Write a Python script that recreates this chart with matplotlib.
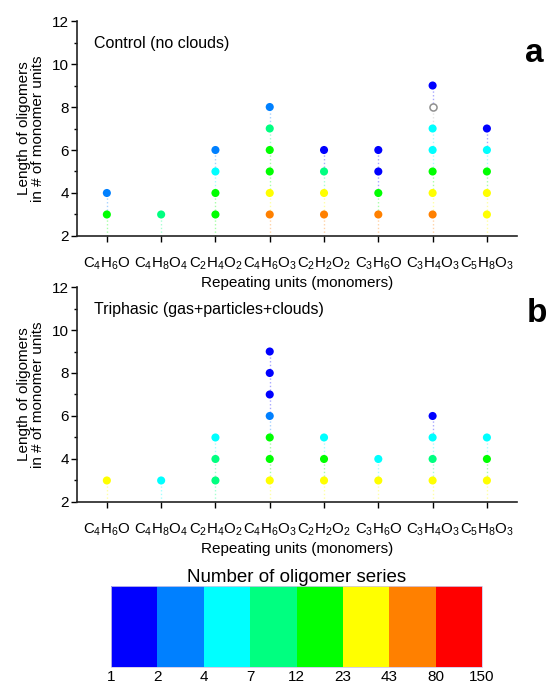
import numpy as np
import matplotlib
matplotlib.use("Agg")
import matplotlib.pyplot as plt
from matplotlib.colors import ListedColormap, BoundaryNorm
from matplotlib.colorbar import ColorbarBase

plt.rcParams['font.family'] = ['Liberation Sans', 'DejaVu Sans']
plt.rcParams['mathtext.fontset'] = 'custom'
plt.rcParams['mathtext.rm'] = 'Liberation Sans'
plt.rcParams['mathtext.it'] = 'Liberation Sans'

# ---------------- data ----------------
categories = [r'C$_4$H$_6$O', r'C$_4$H$_8$O$_4$', r'C$_2$H$_4$O$_2$', r'C$_4$H$_6$O$_3$',
              r'C$_2$H$_2$O$_2$', r'C$_3$H$_6$O', r'C$_3$H$_4$O$_3$', r'C$_5$H$_8$O$_3$']

# panel a (Control, no clouds): oligomer lengths per repeating unit and number of series
a_lengths = [[3, 4], [3], [3, 4, 5, 6], [3, 4, 5, 6, 7, 8], [3, 4, 5, 6],
             [3, 4, 5, 6], [3, 4, 5, 6, 7, 8, 9], [3, 4, 5, 6, 7]]
a_counts = [[17, 3], [9], [17, 17, 5, 3], [60, 30, 17, 17, 9, 3], [60, 30, 9, 1.5],
            [60, 17, 1.5, 1.5], [60, 30, 17, 5, 5, np.nan, 1.5], [30, 30, 17, 5, 1.5]]

# panel b (Triphasic)
b_lengths = [[3], [3], [3, 4, 5], [3, 4, 5, 6, 7, 8, 9], [3, 4, 5],
             [3, 4], [3, 4, 5, 6], [3, 4, 5]]
b_counts = [[30], [5], [9, 9, 5], [30, 17, 17, 3, 1.5, 1.5, 1.5], [30, 17, 5],
            [30, 5], [30, 9, 5, 1.5], [30, 17, 5]]

bounds = [1, 2, 4, 7, 12, 23, 43, 80, 150]
bin_colors = ['#0000ff', '#0080ff', '#00ffff', '#00ff80', '#00ff00',
              '#ffff00', '#ff8000', '#ff0000']

cmap = ListedColormap(bin_colors)
norm = BoundaryNorm(bounds, cmap.N)

fig = plt.figure(figsize=(5.48, 6.85), dpi=100)

def panel(rect, lengths, counts, title, letter, letter_x, letter_y):
    ax = fig.add_axes(rect)
    ax.set_facecolor('none')
    for i, (ls, cs) in enumerate(zip(lengths, counts)):
        x = i + 1
        prev = 2
        for L, c in zip(ls, cs):
            col = '#b0b0b0' if np.isnan(c) else cmap(norm(c))
            ax.plot([x, x], [prev, L], linestyle=':', linewidth=1.0,
                    color=col, alpha=0.35, zorder=1)
            prev = L
        xs = np.full(len(ls), x)
        cs_arr = np.array(cs, dtype=float)
        ok = ~np.isnan(cs_arr)
        ax.scatter(xs[ok], np.array(ls)[ok], c=cs_arr[ok], cmap=cmap, norm=norm,
                   s=34, edgecolors='none', zorder=3, clip_on=False)
        if (~ok).any():
            ax.scatter(xs[~ok], np.array(ls)[~ok], s=26, facecolors='white',
                       edgecolors='#909090', linewidths=1.1, zorder=3)
    ax.set_xlim(0.45, 8.55)
    ax.set_ylim(2, 12)
    ax.set_yticks([2, 4, 6, 8, 10, 12])
    ax.set_yticks([3, 5, 7, 9, 11], minor=True)
    ax.set_xticks(np.arange(1, 9))
    ax.set_xticklabels(categories, fontsize=10.8)
    ax.tick_params(axis='y', which='major', direction='out', length=4, width=1,
                   labelsize=11, pad=2)
    ax.tick_params(axis='y', which='minor', direction='out', length=2.5, width=1)
    ax.tick_params(axis='x', which='major', direction='out', length=4, width=1,
                   pad=10)
    for s in ['top', 'right']:
        ax.spines[s].set_visible(False)
    for s in ['left', 'bottom']:
        ax.spines[s].set_linewidth(1.2)
        ax.spines[s].set_color('#222222')
    ax.set_ylabel('Length of oligomers\nin # of monomer units', fontsize=11,
                  linespacing=1.05)
    ax.yaxis.set_label_coords(-0.072, 0.5)
    ax.set_xlabel('Repeating units (monomers)', fontsize=11, labelpad=3)
    ax.text(0.76, 10.75, title, fontsize=11.5, ha='left', va='baseline')
    fig.text(letter_x, letter_y, letter, fontsize=24, fontweight='bold',
             ha='left', va='baseline')
    return ax

panel([0.1405, 0.6555, 0.8025, 0.3138], a_lengths, a_counts,
      'Control (no clouds)', 'a', 0.958, 0.9095)
panel([0.1405, 0.2672, 0.8025, 0.3138], b_lengths, b_counts,
      'Triphasic (gas+particles+clouds)', 'b', 0.962, 0.530)

cax = fig.add_axes([0.2026, 0.0263, 0.677, 0.118])
cb = ColorbarBase(cax, cmap=cmap, norm=norm, boundaries=bounds, ticks=bounds,
                  spacing='uniform', orientation='horizontal')
cb.set_ticklabels([str(b) for b in bounds])
cax.tick_params(length=0, labelsize=11, pad=2)
cb.outline.set_linewidth(0.6)
cb.outline.set_edgecolor('#d0c8e8')
cax.set_title('Number of oligomer series', fontsize=13.5, pad=3)

fig.savefig('out.png', dpi=100)
